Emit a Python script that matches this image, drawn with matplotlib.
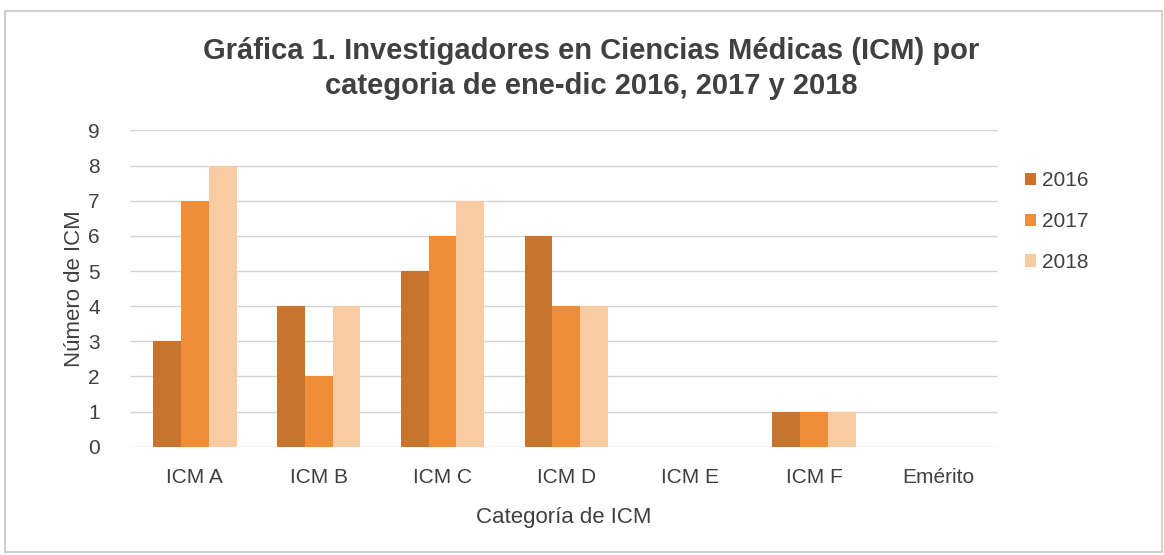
import numpy as np
import matplotlib
matplotlib.use('Agg')
import matplotlib.pyplot as plt
from matplotlib.patches import Rectangle

categories = ['ICM A', 'ICM B', 'ICM C', 'ICM D', 'ICM E', 'ICM F', 'Emérito']
years = ['2016', '2017', '2018']
v2016 = [3, 4, 5, 6, 0, 1, 0]
v2017 = [7, 2, 6, 4, 0, 1, 0]
v2018 = [8, 4, 7, 4, 0, 1, 0]
colors = ['#C8732E', '#F08D38', '#F9CBA3']

plt.rc('font', family=['Liberation Sans', 'DejaVu Sans'])

fig = plt.figure(figsize=(11.64, 5.55), dpi=100)
fig.patches.append(Rectangle((0.004, 0.005), 0.994, 0.975, transform=fig.transFigure,
                             fill=False, edgecolor='#d0d0d0', lw=1.5))
ax = fig.add_axes([0.112, 0.195, 0.745, 0.57])

x = np.arange(len(categories))
w = 0.225
for i, (vals, c, lab) in enumerate(zip([v2016, v2017, v2018], colors, years)):
    ax.bar(x + (i - 1) * w, vals, width=w, color=c, label=lab, zorder=3)

ax.set_xlim(-0.52, 6.48)
ax.set_ylim(0, 9)
ax.set_yticks(range(10))
ax.set_xticks(x)
ax.set_xticklabels(categories)
ax.grid(axis='y', color='#d4d4d4', lw=1, zorder=0)
for s in ax.spines.values():
    s.set_visible(False)
ax.tick_params(length=0, labelsize=15, colors='#404040', pad=15)
ax.tick_params(axis='y', pad=22)

ax.set_xlabel('Categoría de ICM', fontsize=16, color='#404040', labelpad=15)
ax.set_ylabel('Número de ICM', fontsize=16, color='#404040', labelpad=2)

fig.text(0.508, 0.877, 'Gráfica 1. Investigadores en Ciencias Médicas (ICM) por\ncategoria de ene-dic 2016, 2017 y 2018',
         ha='center', va='center', fontsize=21, fontweight='bold', color='#404040', linespacing=1.3)

leg = ax.legend(loc='upper left', bbox_to_anchor=(1.01, 0.93), frameon=False, fontsize=15,
                handlelength=0.55, handleheight=0.55, handletextpad=0.25, labelspacing=1.05,
                labelcolor='#404040')

fig.savefig('out.png', dpi=100)
